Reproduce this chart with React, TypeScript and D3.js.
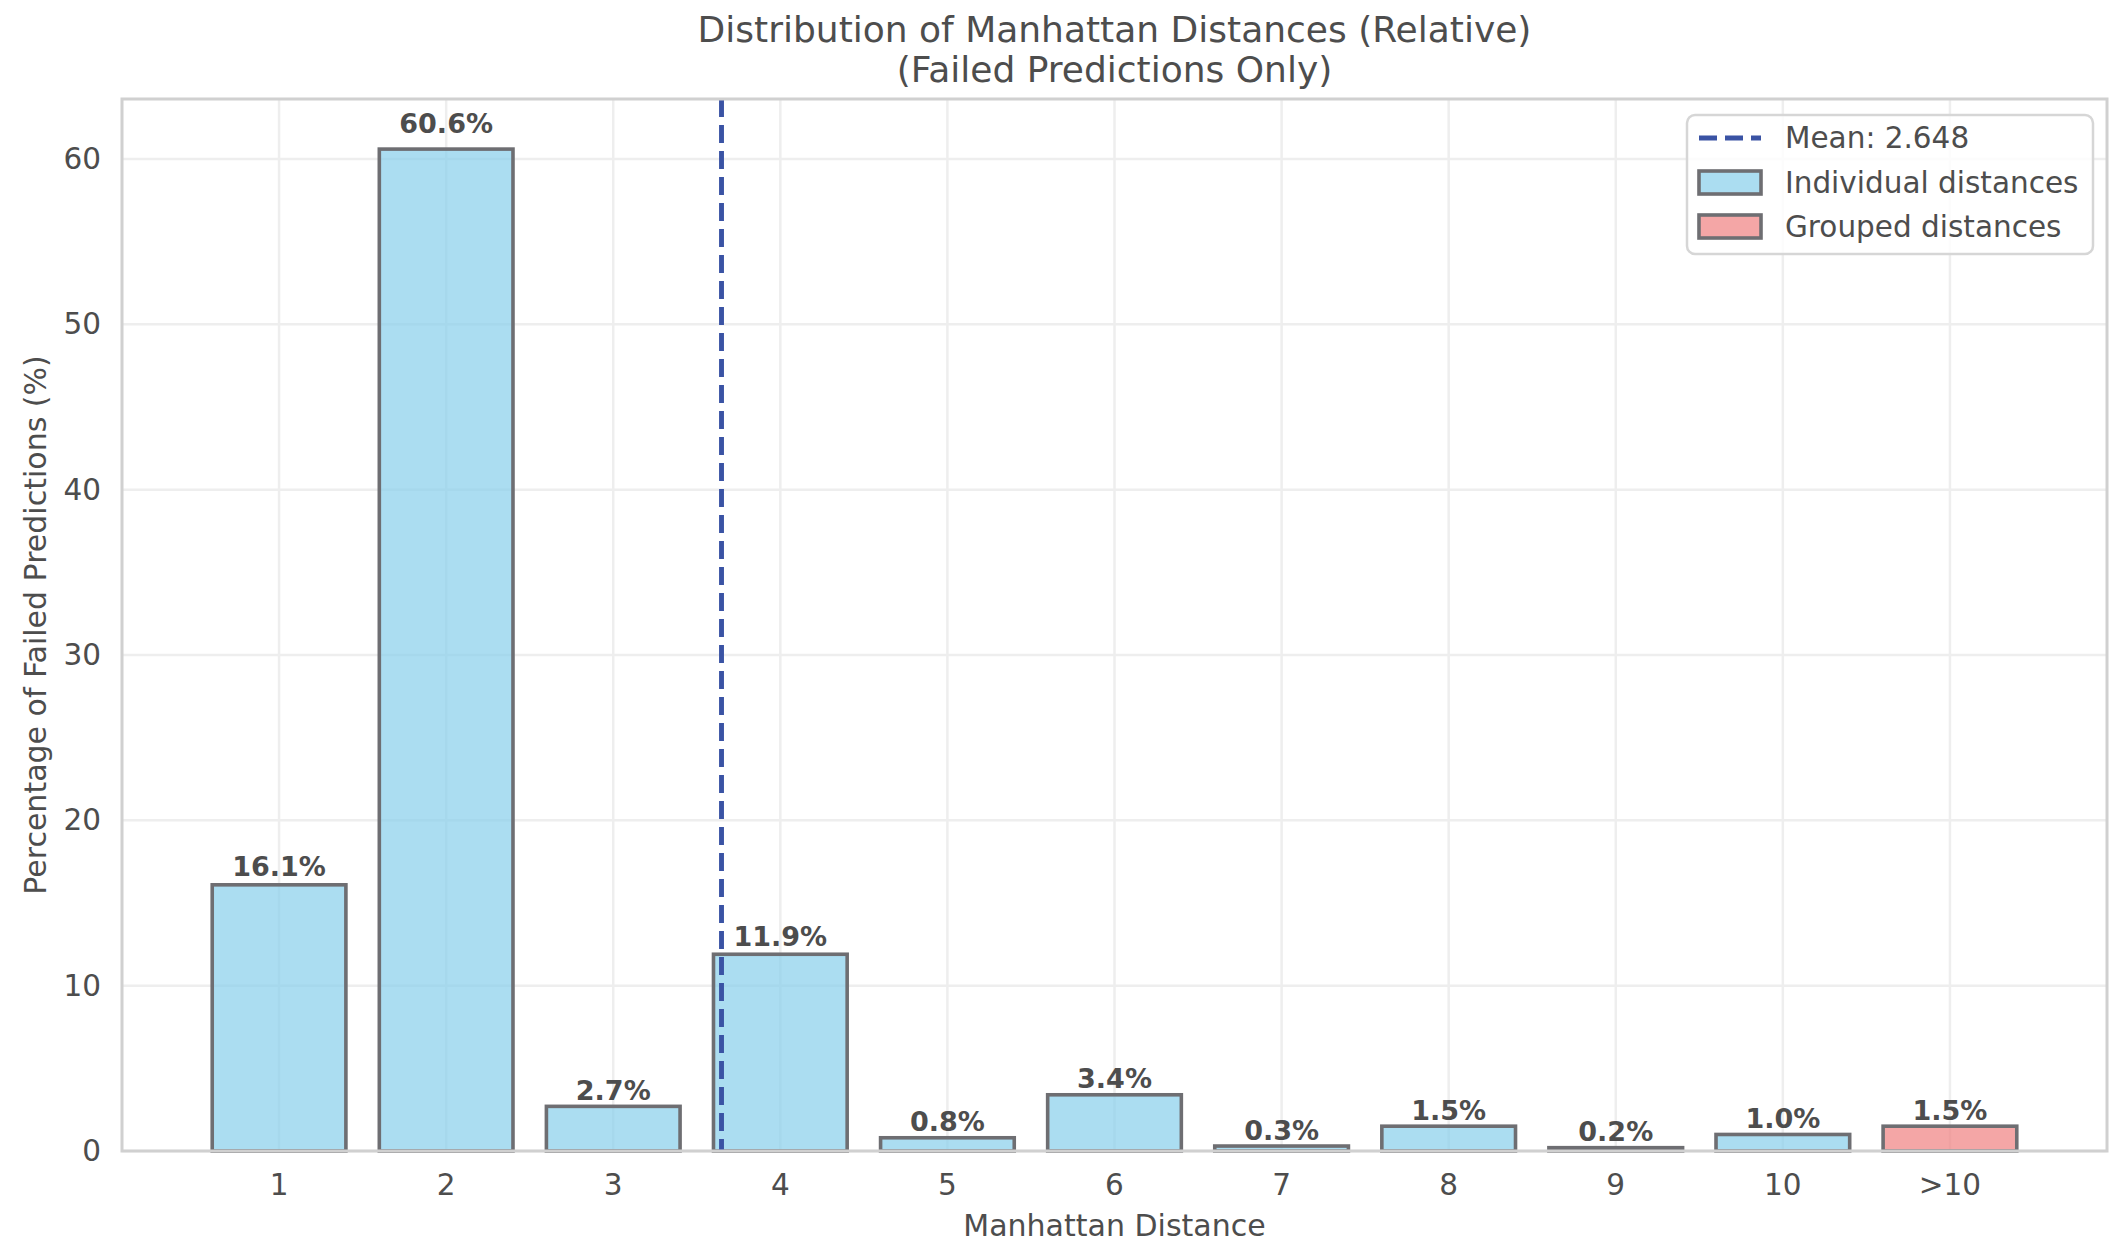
import React from 'react';
import * as d3 from 'd3';

const categories = ['1', '2', '3', '4', '5', '6', '7', '8', '9', '10', '>10'];
const percentages = [16.1, 60.6, 2.7, 11.9, 0.8, 3.4, 0.3, 1.5, 0.2, 1.0, 1.5];
const grouped = [false, false, false, false, false, false, false, false, false, false, true];
const yTicks = [0, 10, 20, 30, 40, 50, 60];
const meanValue = 2.648;

const W = 2122;
const H = 1252;
const margin = { top: 99, right: 15, bottom: 101, left: 122 };
const FONT = '"DejaVu Sans", sans-serif';
const TEXT = '#4d4d4d';

const App: React.FC = () => {
  const left = margin.left;
  const right = W - margin.right;
  const top = margin.top;
  const bottom = H - margin.bottom;
  const barWidth = 0.8;

  // matplotlib-like 5% margins around the bars
  const span = categories.length - 1 + barWidth;
  const pad = span * 0.05;
  const x = d3
    .scaleLinear()
    .domain([-barWidth / 2 - pad, categories.length - 1 + barWidth / 2 + pad])
    .range([left, right]);

  const yMax = (d3.max(percentages) as number) * 1.05;
  const y = d3.scaleLinear().domain([0, yMax]).range([bottom, top]);

  const bw = x(barWidth) - x(0);
  const cx = (left + right) / 2;

  return (
    <svg
      width={W}
      height={H}
      style={{ position: 'absolute', left: 0, top: 0, background: '#fff' }}
      fontFamily={FONT}
    >
      <rect x={0} y={0} width={W} height={H} fill="#fff" />

      {/* title */}
      <text x={cx} y={42} textAnchor="middle" fontSize={36} fill={TEXT}>
        Distribution of Manhattan Distances (Relative)
      </text>
      <text x={cx} y={82} textAnchor="middle" fontSize={36} fill={TEXT}>
        (Failed Predictions Only)
      </text>

      {/* grid */}
      <g stroke="#eeeeee" strokeWidth={2.5}>
        {yTicks.map((t) => (
          <line key={'gy' + t} x1={left} x2={right} y1={y(t)} y2={y(t)} />
        ))}
        {categories.map((c, i) => (
          <line key={'gx' + c} x1={x(i)} x2={x(i)} y1={top} y2={bottom} />
        ))}
      </g>

      {/* bars */}
      <g>
        {percentages.map((v, i) => (
          <rect
            key={'b' + i}
            x={x(i) - bw / 2}
            y={y(v)}
            width={bw}
            height={y(0) - y(v)}
            fill={grouped[i] ? '#F08080' : '#87CEEB'}
            fillOpacity={0.7}
            stroke="#6e6e72"
            strokeWidth={3.6}
          />
        ))}
      </g>

      {/* value labels */}
      <g fontSize={27} fontWeight="bold" fill={TEXT} textAnchor="middle">
        {percentages.map((v, i) => (
          <text key={'l' + i} x={x(i)} y={y(v * 1.01 + 0.38)}>
            {v.toFixed(1)}%
          </text>
        ))}
      </g>

      {/* mean line */}
      <line
        x1={x(meanValue)}
        x2={x(meanValue)}
        y1={top}
        y2={bottom}
        stroke="#3a53a4"
        strokeWidth={4.9}
        strokeDasharray="18,8"
      />

      {/* spines */}
      <rect
        x={left}
        y={top}
        width={right - left}
        height={bottom - top}
        fill="none"
        stroke="#d0d0d0"
        strokeWidth={3}
      />

      {/* y ticks */}
      <g fontSize={29.5} fill={TEXT} textAnchor="end">
        {yTicks.map((t) => (
          <text key={'ty' + t} x={left - 21} y={y(t)} dominantBaseline="central">
            {t}
          </text>
        ))}
      </g>

      {/* x ticks */}
      <g fontSize={29.5} fill={TEXT} textAnchor="middle">
        {categories.map((c, i) => (
          <text key={'tx' + c} x={x(i)} y={bottom + 44}>
            {c}
          </text>
        ))}
      </g>

      {/* axis labels */}
      <text x={cx} y={1236} textAnchor="middle" fontSize={30} fill={TEXT}>
        Manhattan Distance
      </text>
      <text
        transform={`translate(46, ${(top + bottom) / 2}) rotate(-90)`}
        textAnchor="middle"
        fontSize={30}
        fill={TEXT}
      >
        Percentage of Failed Predictions (%)
      </text>

      {/* legend */}
      <g>
        <rect
          x={1687}
          y={115}
          width={406}
          height={139}
          rx={8}
          fill="#fff"
          fillOpacity={0.8}
          stroke="#d6d6d6"
          strokeWidth={2.5}
        />
        <line x1={1699} x2={1761} y1={138} y2={138} stroke="#3a53a4" strokeWidth={4.9} strokeDasharray="18,8" />
        <rect x={1699} y={171} width={62} height={23} fill="#87CEEB" fillOpacity={0.7} stroke="#6e6e72" strokeWidth={3.6} />
        <rect x={1699} y={215} width={62} height={23} fill="#F08080" fillOpacity={0.7} stroke="#6e6e72" strokeWidth={3.6} />
        <g fontSize={29.5} fill={TEXT}>
          <text x={1785} y={148}>Mean: {meanValue.toFixed(3)}</text>
          <text x={1785} y={193}>Individual distances</text>
          <text x={1785} y={237}>Grouped distances</text>
        </g>
      </g>
    </svg>
  );
};

export default App;
